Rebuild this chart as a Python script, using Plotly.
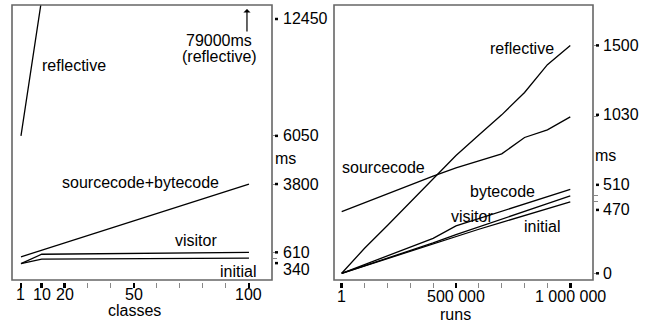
import plotly.graph_objects as go

W, H = 651, 329
FONT = "Liberation Sans, Arial, Helvetica, sans-serif"

# ---------------- data: left panel (classes) ----------------
classes_ticks = [1, 10, 20, 50, 100]
classes_minor = [30, 40, 60, 70, 80, 90]
refl_l_x = [1, 10, 100]
refl_l_y = [6050, 12450, 79000]
srcbyte_l_x = [1, 100]
srcbyte_l_y = [400, 3800]
visitor_l_x = [1, 10, 100]
visitor_l_y = [80, 520, 610]
initial_l_x = [1, 10, 100]
initial_l_y = [80, 290, 340]
ms_ticks_l = [340, 610, 3800, 6050]
ms_labels_l = [6050, 3800, 610, 340]
ms_top_label_l = 12450

# ---------------- data: right panel (runs) ----------------
runs = [1, 100000, 200000, 300000, 400000, 500000, 600000, 700000, 800000, 900000, 1000000]
refl_r = [0, 165, 315, 467, 623, 775, 911, 1043, 1190, 1373, 1500]
source_r = [406, 465, 523, 582, 640, 694, 740, 786, 894, 944, 1030]
bytecode_r = [0, 58, 115, 173, 230, 312, 360, 408, 457, 505, 553]
visitor_r = [0, 50, 100, 150, 200, 255, 305, 355, 405, 458, 510]
initial_r = [0, 48, 96, 144, 192, 245, 290, 335, 380, 425, 470]
runs_ticks = [1, 500000, 1000000]
runs_ticktext = ["1", "500 000", "1 000 000"]
runs_minor = [100000, 200000, 300000, 400000, 600000, 700000, 800000, 900000]
ms_ticks_r = [0, 470, 510, 1030, 1500]
ms_labels_r = [1500, 1030, 510, 470, 0]

# label pixel offsets (layout only)
shift_l = {6050: 0, 3800: 0, 610: 0, 340: -11}
dash_shift_l = {6050: 0, 3800: 0, 610: 0, 340: -5}
shift_r = {1500: 0, 1030: 2, 510: 11, 470: -8, 0: 0}


def px(x):
    return x / W


def py(y):
    return 1 - y / H


fig = go.Figure()
line = dict(color="black", width=1.3)
for xs, ys in [(refl_l_x, refl_l_y), (srcbyte_l_x, srcbyte_l_y),
               (visitor_l_x, visitor_l_y), (initial_l_x, initial_l_y)]:
    fig.add_trace(go.Scatter(x=xs, y=ys, mode="lines", line=line,
                             xaxis="x", yaxis="y", hoverinfo="skip"))
for ys in [refl_r, source_r, bytecode_r, visitor_r, initial_r]:
    fig.add_trace(go.Scatter(x=runs, y=ys, mode="lines", line=line,
                             xaxis="x2", yaxis="y2", hoverinfo="skip"))

ydom = [py(280), py(5)]
xpos = py(282)

common_x = dict(anchor="free", position=xpos, showline=False, showgrid=False,
                zeroline=False, ticks="outside", ticklen=5, tickwidth=2.5,
                tickcolor="black", showticklabels=False, automargin=False,
                fixedrange=True)
common_y = dict(side="right", showline=False, showgrid=False, zeroline=False,
                ticks="outside", ticklen=4, tickwidth=1, tickcolor="#888",
                showticklabels=False, automargin=False, domain=ydom,
                fixedrange=True)

fig.update_layout(
    width=W, height=H,
    margin=dict(l=0, r=0, t=0, b=0),
    paper_bgcolor="white", plot_bgcolor="white",
    showlegend=False,
    font=dict(family=FONT, size=16, color="black"),
    xaxis=dict(domain=[px(12), px(272)], range=[-2.9, 110],
               tickvals=classes_ticks,
               minor=dict(tickvals=classes_minor, ticks="outside", ticklen=5,
                          tickwidth=1, tickcolor="#888"),
               **common_x),
    yaxis=dict(anchor="x", range=[-682, 12163], tickvals=ms_ticks_l, **common_y),
    xaxis2=dict(domain=[px(334), px(593)], range=[-33700, 1099400],
                tickvals=runs_ticks,
                minor=dict(tickvals=runs_minor, ticks="outside", ticklen=5,
                           tickwidth=1, tickcolor="#888"),
                **common_x),
    yaxis2=dict(anchor="x2", range=[-44, 1766], tickvals=ms_ticks_r, **common_y),
)

shapes = []
annotations = []
# frames
for xr, yr in [("x domain", "y domain"), ("x2 domain", "y2 domain")]:
    shapes.append(dict(type="rect", xref=xr, yref=yr, x0=0, x1=1, y0=0, y1=1,
                       line=dict(color="#666", width=1.6), layer="above"))


def ylabel(xr, yr, v, text, tshift, dshift, xs):
    shapes.append(dict(type="line", xref=xr, yref=yr,
                       xsizemode="pixel", xanchor=1, x0=3, x1=6,
                       ysizemode="pixel", yanchor=v, y0=dshift, y1=dshift,
                       line=dict(color="black", width=2.5)))
    annotations.append(dict(xref=xr, yref=yr, x=1, y=v, xshift=xs,
                            yshift=tshift, text=text, showarrow=False,
                            xanchor="left", yanchor="middle",
                            font=dict(size=16)))


for v in ms_labels_l:
    ylabel("x domain", "y", v, str(v), shift_l[v], dash_shift_l[v], 9)
# top label of the left panel sits just under the frame top
ylabel("x domain", "y domain", 1, str(ms_top_label_l), -14, -14, 9)
for v in ms_labels_r:
    ylabel("x2 domain", "y2", v, str(v), shift_r[v], shift_r[v], 8)

# x tick labels
for xr, vals, texts, ypix in [("x", classes_ticks, [str(v) for v in classes_ticks], 294),
                              ("x2", runs_ticks, runs_ticktext, 296)]:
    for v, t in zip(vals, texts):
        annotations.append(dict(xref=xr, yref="paper", x=v, y=py(ypix), text=t,
                                showarrow=False, xanchor="center",
                                yanchor="middle", font=dict(size=16)))


def txt(t, x, y):
    annotations.append(dict(xref="paper", yref="paper", x=px(x), y=py(y),
                            text=t, showarrow=False, xanchor="center",
                            yanchor="middle", font=dict(size=16)))


txt("reflective", 74, 65)
txt("79000ms", 219, 40)
txt("(reflective)", 219.5, 56)
txt("sourcecode+bytecode", 140, 182)
txt("visitor", 196, 240)
txt("initial", 238, 271)
txt("ms", 285, 158)
txt("classes", 134, 310)

txt("reflective", 522, 48)
txt("sourcecode", 383, 167)
txt("bytecode", 502, 191)
txt("visitor", 472, 216)
txt("initial", 542, 226)
txt("ms", 605, 156)
txt("runs", 455, 314)

annotations.append(dict(xref="x", yref="paper", x=100, y=py(9), xshift=-2,
                        ax=0, ay=24, text="", showarrow=True, arrowhead=1,
                        arrowsize=1, arrowwidth=1.2, arrowcolor="black"))

fig.update_layout(shapes=shapes, annotations=annotations)
fig.write_html("out.html",
               config={"displayModeBar": False, "staticPlot": True},
               post_script="document.body.style.margin='0';"
                           "document.body.style.padding='0';"
                           "document.documentElement.style.overflow='hidden';")
